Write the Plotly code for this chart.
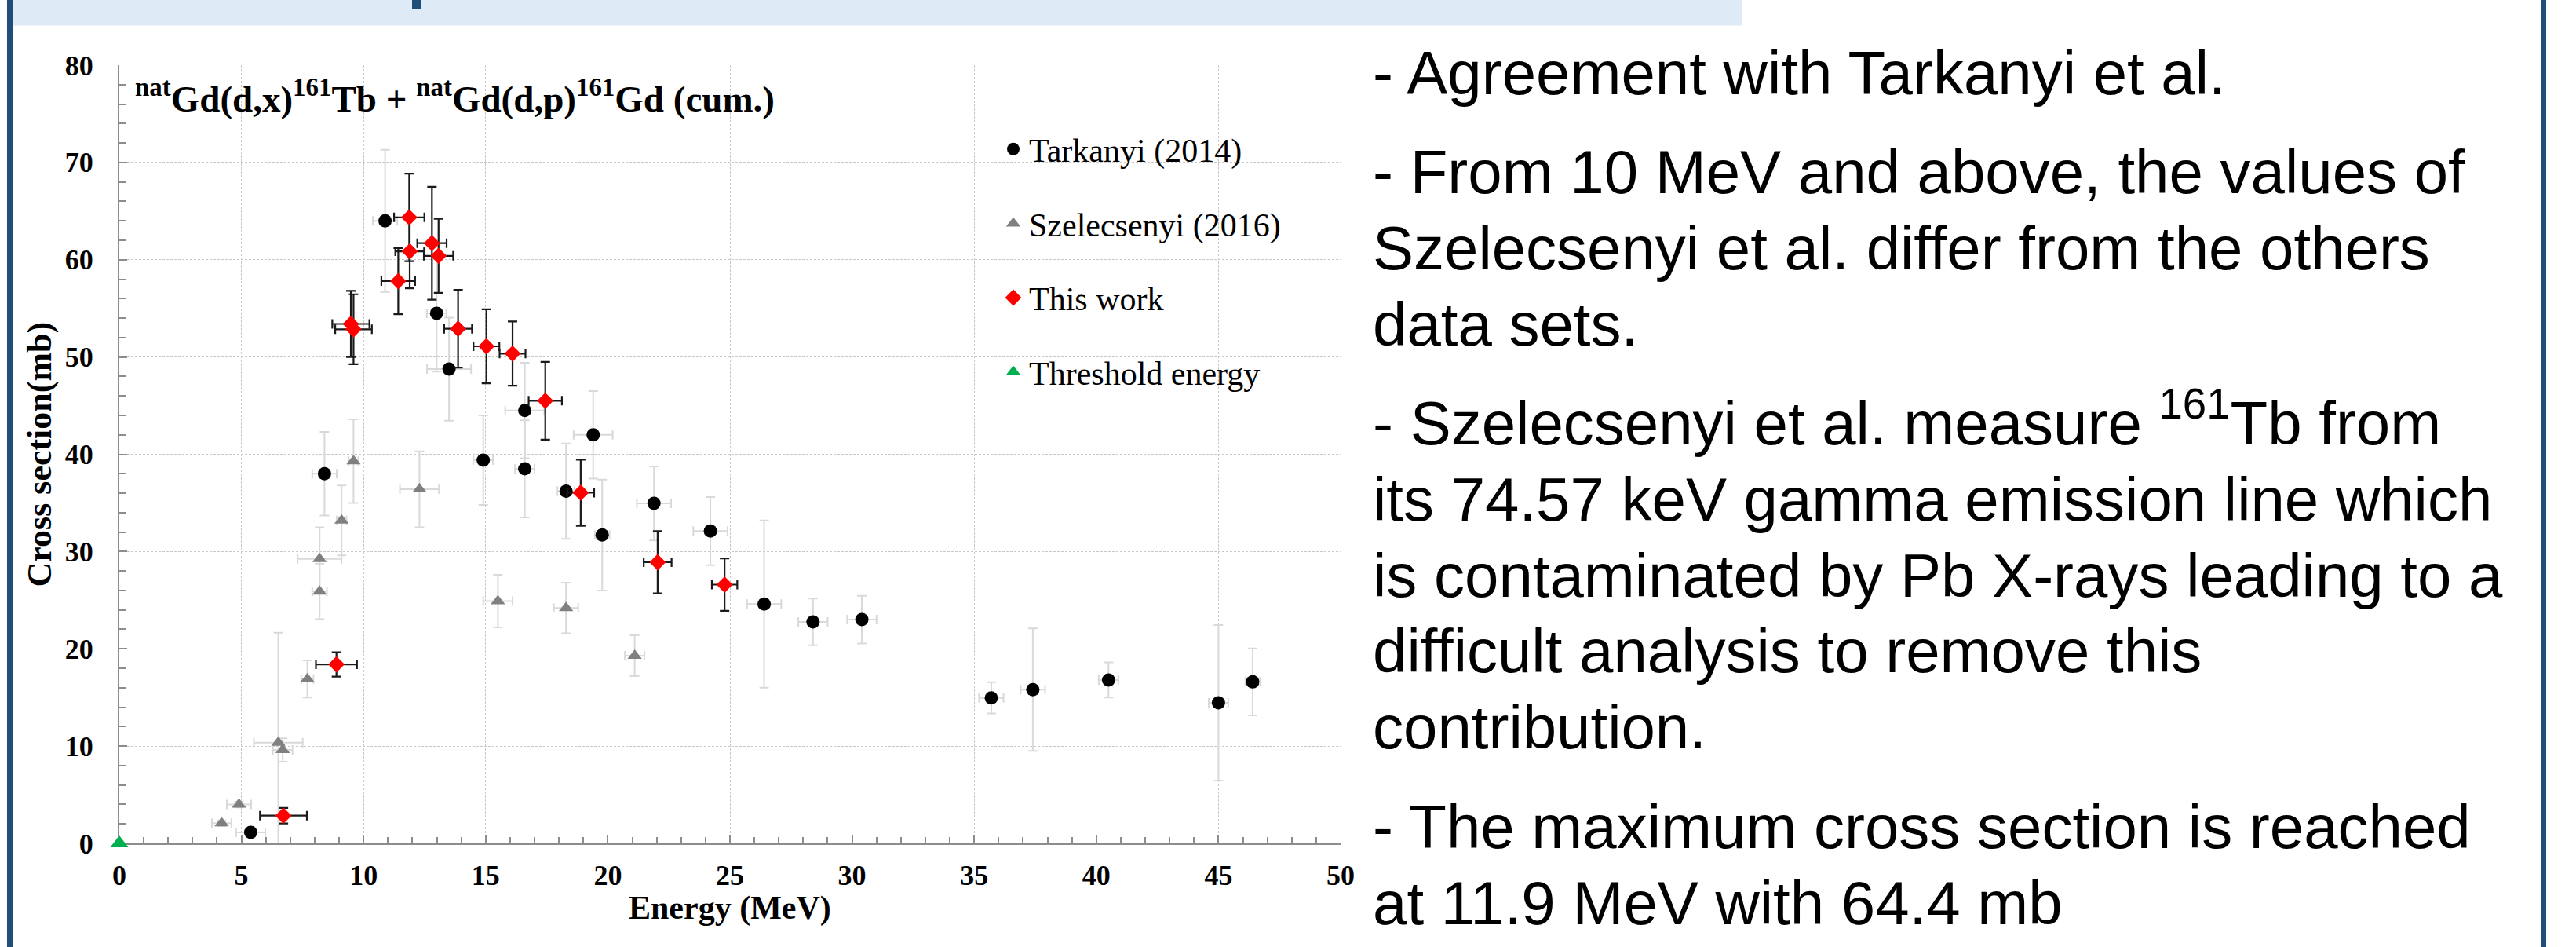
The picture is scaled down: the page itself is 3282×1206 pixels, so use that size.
import plotly.graph_objects as go

# ---------------- data ----------------
# Tarkanyi (2014)
tark_E = [5.38, 8.40, 10.88, 12.99, 13.50, 14.90, 16.60, 16.60, 18.29, 19.40, 19.77,
          21.89, 24.20, 26.40, 28.40, 30.40, 35.70, 37.40, 40.50, 45.00, 46.40]
tark_dE = [0.6, 0.5, 0.5, 0.4, 0.9, 0.4, 0.8, 0.4, 0.35, 0.8, 0.3,
           0.7, 0.7, 0.7, 0.6, 0.6, 0.5, 0.5, 0.4, 0.4, 0.3]
tark_xs = [1.13, 38.0, 64.0, 54.5, 48.75, 39.4, 44.5, 38.5, 36.2, 42.0, 31.7,
           34.95, 32.1, 24.6, 22.76, 23.0, 14.96, 15.8, 16.8, 14.45, 16.6]
tark_dxs = [0.3, 4.3, 7.3, 6.0, 5.3, 4.6, 4.9, 5.0, 4.9, 4.5, 5.7,
            3.8, 3.5, 8.6, 2.4, 2.45, 1.6, 6.3, 1.8, 8.0, 3.45]

# Szelecsenyi (2016)
szel_E = [4.19, 4.90, 6.51, 6.69, 7.70, 8.20, 8.20, 9.10, 9.59, 12.29, 15.50, 18.29, 21.10]
szel_dE = [0.4, 0.5, 1.0, 0.4, 0.25, 0.3, 0.9, 0.2, 0.2, 0.8, 0.6, 0.5, 0.4]
szel_xs = [2.07, 4.0, 10.35, 9.6, 16.9, 25.9, 29.25, 33.2, 39.3, 36.4, 24.9, 24.2, 19.3]
szel_dxs = [0.3, 0.3, 11.3, 1.2, 1.9, 2.85, 3.25, 3.6, 4.3, 3.9, 2.7, 2.6, 2.1]

# This work
this_E = [6.72, 8.89, 9.48, 9.59, 11.42, 11.87, 11.89, 12.80, 13.07, 13.87,
          15.03, 16.10, 17.44, 18.89, 22.04, 24.78]
this_dE = [0.96, 0.84, 0.76, 0.75, 0.69, 0.62, 0.59, 0.6, 0.6, 0.57,
           0.53, 0.53, 0.68, 0.55, 0.57, 0.52]
this_xs = [2.85, 18.4, 53.4, 52.85, 57.8, 64.35, 60.86, 61.7, 60.4, 52.9,
           51.1, 50.35, 45.5, 36.05, 28.9, 26.6]
this_dxs = [0.8, 1.25, 3.4, 3.6, 3.4, 4.5, 3.8, 5.8, 3.8, 4.0,
            3.8, 3.3, 4.0, 3.4, 3.2, 2.7]

# Threshold energy
thr_E = [0.0]
thr_xs = [0.0]

series_names = ["Tarkanyi (2014)", "Szelecsenyi (2016)", "This work", "Threshold energy"]

x_ticks = [0, 5, 10, 15, 20, 25, 30, 35, 40, 45, 50]
y_ticks = [0, 10, 20, 30, 40, 50, 60, 70, 80]

chart_title = ("<b><sup>nat</sup>Gd(d,x)<sup>161</sup>Tb + "
               "<sup>nat</sup>Gd(d,p)<sup>161</sup>Gd (cum.)</b>")
x_title = "<b>Energy (MeV)</b>"
y_title = "<b>Cross section(mb)</b>"

notes = [
    ["- Agreement with Tarkanyi et al."],
    ["- From 10 MeV and above, the values of",
     "Szelecsenyi et al. differ from the others",
     "data sets."],
    ["- Szelecsenyi et al. measure <sup>161</sup>Tb from",
     "its 74.57 keV gamma emission line which",
     "is contaminated by Pb X-rays leading to a",
     "difficult analysis to remove this",
     "contribution."],
    ["- The maximum cross section is reached",
     "at 11.9 MeV with 64.4 mb"],
]

# ---------------- layout geometry ----------------
W, H = 3282, 1206
L, R, T, B = 152, 1708, 83, 1074   # plot area in pixels


def px(x):
    return (x - L) / (R - L)


def py(y):
    return (B - y) / (B - T)


SERIF = "Liberation Serif, Times New Roman, serif"
SANS = "Liberation Sans, Arial, sans-serif"

GREY_ERR = dict(color="#d9d9d9", thickness=2, width=6)
BLACK_ERR = dict(color="#1a1a1a", thickness=2.2, width=6)

fig = go.Figure()

fig.add_trace(go.Scatter(
    x=tark_E, y=tark_xs, mode="markers", name=series_names[0], legendgroup="a",
    marker=dict(symbol="circle", size=17, color="black"),
    error_x=dict(type="data", array=tark_dE, visible=True, **GREY_ERR),
    error_y=dict(type="data", array=tark_dxs, visible=True, **GREY_ERR),
))
fig.add_trace(go.Scatter(
    x=szel_E, y=szel_xs, mode="markers", name=series_names[1], legendgroup="b",
    marker=dict(symbol="triangle-up", size=16, color="#808080"),
    error_x=dict(type="data", array=szel_dE, visible=True, **GREY_ERR),
    error_y=dict(type="data", array=szel_dxs, visible=True, **GREY_ERR),
))
fig.add_trace(go.Scatter(
    x=this_E, y=this_xs, mode="markers", name=series_names[2], legendgroup="c",
    marker=dict(symbol="diamond", size=16, color="#ff0000"),
    error_x=dict(type="data", array=this_dE, visible=True, **BLACK_ERR),
    error_y=dict(type="data", array=this_dxs, visible=True, **BLACK_ERR),
))
fig.add_trace(go.Scatter(
    x=thr_E, y=thr_xs, mode="markers", name=series_names[3], legendgroup="d",
    marker=dict(symbol="triangle-up", size=20, color="#00b050"),
    cliponaxis=False,
))

annotations = []
# chart title (inside the plot)
annotations.append(dict(
    text=chart_title, xref="paper", yref="paper", x=px(170), y=py(154),
    xanchor="left", yanchor="bottom", showarrow=False,
    font=dict(family=SERIF, size=47, color="black"),
))
# axis titles
annotations.append(dict(
    text=x_title, xref="paper", yref="paper", x=0.5, y=py(1182),
    xanchor="center", yanchor="bottom", showarrow=False,
    font=dict(family=SERIF, size=42, color="black"),
))
annotations.append(dict(
    text=y_title, xref="paper", yref="paper", x=px(50), y=0.5,
    xanchor="center", yanchor="middle", showarrow=False, textangle=-90,
    font=dict(family=SERIF, size=44, color="black"),
))

# right-hand notes
NOTE_SIZE = 78
first_base, step, gap = 121.0, 96.7, 30.0
base = first_base
for p, para in enumerate(notes):
    if p > 0:
        base += gap
    for line in para:
        annotations.append(dict(
            text=line, xref="paper", yref="paper", x=px(1747),
            y=py(base + 0.212 * NOTE_SIZE + 1),
            xanchor="left", yanchor="bottom", showarrow=False, align="left",
            font=dict(family=SANS, size=NOTE_SIZE, color="black"),
        ))
        base += step

shapes = [
    # top banner
    dict(type="rect", xref="paper", yref="paper", x0=px(17), x1=px(2220),
         y0=py(32.5), y1=py(0), fillcolor="#deebf7", line=dict(width=0), layer="below"),
    # fragment of banner title glyph
    dict(type="rect", xref="paper", yref="paper", x0=px(525), x1=px(536),
         y0=py(12), y1=py(0), fillcolor="#1f4e79", line=dict(width=0)),
    # left border
    dict(type="rect", xref="paper", yref="paper", x0=px(9), x1=px(16),
         y0=py(H), y1=py(0), fillcolor="#1f4e79", line=dict(width=0)),
    # right border
    dict(type="rect", xref="paper", yref="paper", x0=px(3238), x1=px(3244),
         y0=py(H), y1=py(0), fillcolor="#1f4e79", line=dict(width=0)),
]

fig.update_layout(
    width=W, height=H,
    margin=dict(l=L, r=W - R, t=T, b=H - B, pad=0),
    paper_bgcolor="white", plot_bgcolor="white",
    font=dict(family=SERIF, color="black"),
    showlegend=True,
    legend=dict(
        x=px(1271), y=py(156), xanchor="left", yanchor="top",
        font=dict(family=SERIF, size=42, color="black"),
        bgcolor="rgba(0,0,0,0)", tracegroupgap=37, itemwidth=30,
    ),
    annotations=annotations,
    shapes=shapes,
)

fig.update_xaxes(
    range=[0, 50], tickvals=x_ticks, ticktext=[str(v) for v in x_ticks],
    showline=True, linecolor="#8c8c8c", linewidth=2, layer="below traces",
    ticks="inside", ticklen=10, tickwidth=1.5, tickcolor="#8c8c8c",
    minor=dict(dtick=1, ticks="inside", ticklen=8, tickwidth=1.5, tickcolor="#8c8c8c", showgrid=False),
    showgrid=True, gridcolor="#c8c8c8", gridwidth=1, griddash="3px,2px",
    zeroline=False,
    tickfont=dict(family=SERIF, size=36, color="black", weight="bold"),
    ticklabelstandoff=8,
)
fig.update_yaxes(
    range=[0, 80], tickvals=y_ticks, ticktext=[str(v) for v in y_ticks],
    showline=True, linecolor="#8c8c8c", linewidth=2, layer="below traces",
    ticks="inside", ticklen=10, tickwidth=1.5, tickcolor="#8c8c8c",
    minor=dict(dtick=2, ticks="inside", ticklen=8, tickwidth=1.5, tickcolor="#8c8c8c", showgrid=False),
    showgrid=True, gridcolor="#c8c8c8", gridwidth=1, griddash="3px,2px",
    zeroline=False,
    tickfont=dict(family=SERIF, size=36, color="black", weight="bold"),
    ticklabelstandoff=24,
)

fig.write_html("out.html", config={"displayModeBar": False},
               post_script="document.body.style.margin='0px';")
